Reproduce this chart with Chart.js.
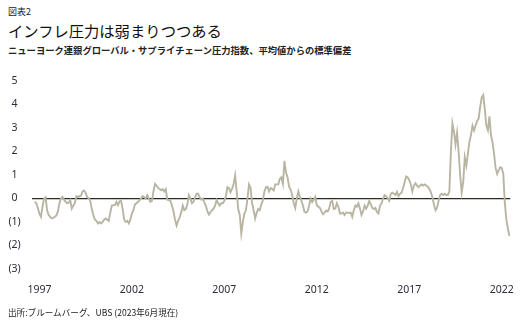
<!DOCTYPE html>
<html lang="ja">
<head>
<meta charset="utf-8">
<script src="https://cdn.jsdelivr.net/npm/chart.js@4"></script>
<style>
  html, body { margin: 0; padding: 0; background: #fff; }
  body { width: 529px; height: 324px; position: relative; overflow: hidden;
         font-family: "Noto Sans CJK JP", "Noto Sans", sans-serif; color: #222; }
  .txt { position: absolute; left: 8px; white-space: nowrap; line-height: 1; }
  #fig   { top: 7px;   font-size: 9px; }
  #title { top: 23px;  font-size: 15.3px; color: #111; }
  #sub   { top: 46px;  font-size: 9.3px; font-weight: bold; }
  #src   { top: 308px; font-size: 8.6px; }
  #wrap  { position: absolute; left: 0; top: 0; width: 529px; height: 324px; }
</style>
</head>
<body>
<div class="txt" id="fig">図表2</div>
<div class="txt" id="title">インフレ圧力は弱まりつつある</div>
<div class="txt" id="sub">ニューヨーク連銀グローバル・サプライチェーン圧力指数、平均値からの標準偏差</div>
<div id="wrap"><canvas id="chart" width="529" height="324"></canvas></div>
<div class="txt" id="src">出所:ブルームバーグ、UBS (2023年6月現在)</div>

<script>
// monthly series, first value = Sep 1997
const startYear = 1997;
const startMonth = 9;
const gscpi = [
  -0.14, -0.2, -0.4, -0.65,                                              // 1997
  -0.78, -0.35, 0.0, 0.05, -0.5, -0.7, -0.78, -0.85, -0.82, -0.78, -0.72, -0.55, // 1998
  -0.2, 0.0, 0.07, -0.05, -0.14, -0.2, -0.18, -0.07, -0.43, -0.3, -0.2, 0.1,     // 1999
  0.05, 0.1, 0.12, 0.3, 0.34, 0.25, 0.05, 0.02, -0.1, -0.45, -0.7, -0.9,         // 2000
  -0.95, -1.06, -1.0, -1.06, -1.0, -0.9, -0.85, -0.9, -0.95, -0.6, -0.3, -0.28,  // 2001
  -0.28, -0.14, -0.28, -0.12, -0.1, -0.45, -0.9, -1.0, -0.95, -1.06, -0.9, -0.64, // 2002
  -0.5, -0.25, -0.2, -0.14, -0.07, 0.0, 0.1, 0.05, 0.0, 0.14, 0.0, -0.14,        // 2003
  -0.1, 0.3, 0.62, 0.55, 0.45, 0.4, 0.35, 0.4, 0.3, 0.4, -0.05, -0.07,           // 2004
  -0.1, -0.3, -0.55, -0.9, -1.15, -0.95, -0.8, -0.6, -0.3, -0.5, -0.45, -0.25,   // 2005
  0.14, 0.0, -0.2, -0.14, 0.05, 0.2, 0.2, 0.05, -0.05, 0.0, -0.18, -0.3,         // 2006
  -0.55, -0.68, -0.58, -0.5, -0.43, -0.3, -0.07, -0.2, -0.3, -0.2, -0.2, -0.1,   // 2007
  0.1, 0.48, 0.45, 0.27, 0.41, 0.62, 0.98, 0.3, -0.45, -0.7, -1.49, -1.0,        // 2008
  -0.64, -0.5, 0.0, 0.6, 0.45, -0.2, -0.5, -0.85, -0.6, -0.45, -0.5, -0.25,      // 2009
  -0.07, 0.3, 0.48, 0.5, 0.3, 0.45, 0.4, 0.34, 0.6, 0.6, 0.6, 0.84,              // 2010
  0.9, 0.62, 1.6, 1.1, 0.9, 0.5, 0.38, 0.15, -0.2, -0.4, 0.0, 0.3,               // 2011
  0.07, -0.1, -0.3, -0.57, -0.6, -0.55, -0.3, 0.0, -0.15, -0.05, 0.07, -0.3,     // 2012
  -0.35, -0.4, -0.55, -0.67, -0.6, -0.52, -0.55, -0.43, -0.14, -0.1, -0.45, -0.43, // 2013
  -0.2, -0.35, -0.64, -0.64, -0.6, -0.7, -0.6, -0.6, -0.62, -0.6, -0.78, -0.5,   // 2014
  -0.3, -0.35, -0.21, -0.43, -0.7, -0.55, -0.3, -0.43, -0.3, -0.1, -0.25, -0.4,  // 2015
  -0.45, -0.4, -0.57, -0.64, -0.3, -0.21, 0.0, 0.14, 0.1, 0.0, -0.1, 0.2,        // 2016
  0.25, 0.2, 0.15, 0.28, 0.1, 0.2, 0.25, 0.45, 0.7, 0.94, 0.9, 0.77,             // 2017
  0.6, 0.3, 0.55, 0.65, 0.55, 0.48, 0.55, 0.6, 0.55, 0.6, 0.55, 0.5,             // 2018
  0.4, 0.27, 0.05, -0.25, -0.5, -0.4, -0.1, 0.15, 0.2, 0.15, 0.2, 0.15,          // 2019
  0.15, 0.3, 2.0, 3.2, 2.85, 2.3, 2.8, 2.0, 1.0, 0.25, 0.7, 1.76,                // 2020
  1.4, 1.9, 2.4, 2.7, 3.1, 2.9, 3.1, 3.3, 3.4, 3.9, 4.3, 4.4,                    // 2021
  3.8, 3.1, 2.9, 3.5, 2.7, 2.4, 1.9, 1.3, 1.05, 1.2, 1.33, 1.3,                  // 2022
  1.05, -0.2, -0.9, -1.3, -1.6                                                   // 2023
];
const yearLabels = ['1997', '2002', '2007', '2012', '2017', '2022'];
const yTicks = [-3, -2, -1, 0, 1, 2, 3, 4, 5];

// month index of December of a given year
const decIndex = y => (Number(y) - startYear) * 12 + (12 - startMonth);

const points = gscpi.map((v, i) => ({ x: i, y: v }));

new Chart(document.getElementById('chart'), {
  type: 'line',
  data: {
    datasets: [{
      data: points,
      borderColor: '#b8b5a3',
      borderWidth: 1.9,
      pointRadius: 0,
      tension: 0,
    }],
  },
  options: {
    responsive: false,
    animation: false,
    layout: { padding: { top: 81, right: 13, left: 0, bottom: 0 } },
    plugins: { legend: { display: false }, tooltip: { enabled: false } },
    scales: {
      x: {
        type: 'linear',
        min: -2,
        max: gscpi.length - 0.5,
        afterFit: s => { s.height = 55; },
        afterBuildTicks: s => { s.ticks = yearLabels.map(y => ({ value: decIndex(y) })); },
        grid: { display: false, drawTicks: false },
        border: { display: false },
        ticks: {
          padding: 15,
          maxRotation: 0,
          autoSkip: false,
          color: '#2c2c3a',
          font: { family: 'Noto Sans', size: 10.5 },
          callback: v => String(startYear + Math.round((v - (12 - startMonth)) / 12)),
        },
      },
      y: {
        min: -3,
        max: 5,
        afterFit: s => { s.width = 31.7; },
        afterBuildTicks: s => { s.ticks = yTicks.map(v => ({ value: v })); },
        border: { display: false },
        grid: {
          drawTicks: false,
          lineWidth: 1.3,
          color: c => (c.tick && c.tick.value === 0 ? '#2b2a1c' : 'rgba(0,0,0,0)'),
        },
        ticks: {
          crossAlign: 'center',
          padding: 11,
          color: '#2c2c3a',
          font: { family: 'Noto Sans', size: 10.5 },
          callback: v => (v < 0 ? `(${-v})` : String(v)),
        },
      },
    },
  },
});
</script>
</body>
</html>
